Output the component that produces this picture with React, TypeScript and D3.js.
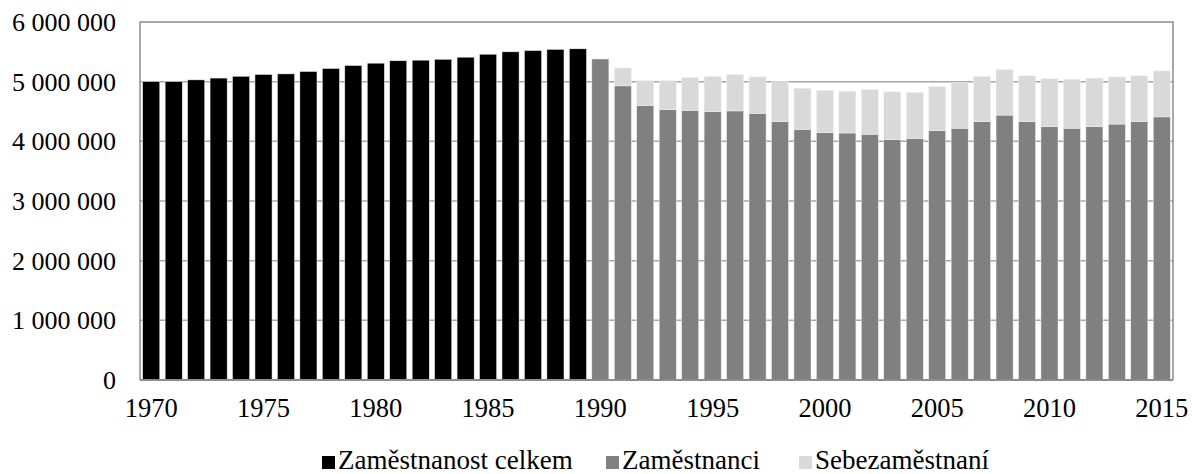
import React from 'react';
import * as d3 from 'd3';

// values
const years = d3.range(1970, 2016).map(String);
const totalYears = d3.range(1970, 1990).map(String);
const totalEmployment = [
  5000000, 5000000, 5030000, 5060000, 5090000, 5120000, 5130000, 5170000, 5220000, 5270000,
  5310000, 5350000, 5360000, 5375000, 5410000, 5460000, 5500000, 5520000, 5540000, 5550000,
];
const splitYears = d3.range(1990, 2016).map(String);
const employees = [
  5380000, 4930000, 4600000, 4530000, 4520000, 4500000, 4510000, 4470000, 4330000, 4200000,
  4145000, 4140000, 4120000, 4030000, 4050000, 4180000, 4220000, 4330000, 4440000, 4330000,
  4245000, 4220000, 4245000, 4290000, 4330000, 4410000,
];
const selfEmployed = [
  0, 300000, 420000, 490000, 550000, 590000, 610000, 610000, 670000, 690000,
  710000, 700000, 750000, 800000, 770000, 740000, 760000, 760000, 760000, 770000,
  805000, 820000, 815000, 790000, 770000, 770000,
];
const yTicks = [0, 1000000, 2000000, 3000000, 4000000, 5000000, 6000000];
const xTickYears = ['1970', '1975', '1980', '1985', '1990', '1995', '2000', '2005', '2010', '2015'];
const legendItems = [
  { label: 'Zaměstnanost celkem', color: '#000000' },
  { label: 'Zaměstnanci', color: '#808080' },
  { label: 'Sebezaměstnaní', color: '#d9d9d9' },
];

const W = 1192, H = 474;
const margin = { left: 140, right: 19, top: 22, bottom: 94 };
const font = "'Liberation Serif', 'Times New Roman', Times, serif";

export default function App() {
  const x = d3.scaleBand()
    .domain(years)
    .range([margin.left, W - margin.right])
    .paddingInner(0.24)
    .paddingOuter(0.12);
  const y = d3.scaleLinear()
    .domain([0, 6000000])
    .range([H - margin.bottom, margin.top]);

  const fmt = (v: number) => d3.format(',')(v).replace(/,/g, ' ');
  const x0 = margin.left, x1 = W - margin.right;
  const yBottom = y(0), yTop = y(6000000);

  // stack employees + self-employed
  const stackRows = splitYears.map((yr, i) => ({ year: yr, emp: employees[i], self: selfEmployed[i] }));
  const stacked = d3.stack<any>().keys(['emp', 'self'])(stackRows);
  const stackColors = ['#808080', '#d9d9d9'];

  const legendX = [322, 606, 799];

  return (
    <svg width={W} height={H} style={{ position: 'absolute', left: 0, top: 0, background: '#fff', fontFamily: font }}>
      {/* gridlines */}
      {yTicks.slice(1, -1).map((t) => (
        <line key={t} x1={x0} x2={x1} y1={y(t)} y2={y(t)} stroke="#a6a6a6" strokeWidth={1.5} />
      ))}
      {/* bars */}
      {totalYears.map((yr, i) => (
        <rect key={yr} x={x(yr)} width={x.bandwidth()} y={y(totalEmployment[i])}
          height={yBottom - y(totalEmployment[i])} fill="#000" stroke="#e8e8e8" strokeWidth={0.5} />
      ))}
      {stacked.map((layer, li) => (
        <g key={li} fill={stackColors[li]}>
          {layer.map((d: any) => (
            d[1] > d[0] ? (
              <rect key={d.data.year} x={x(d.data.year)} width={x.bandwidth()} y={y(d[1])}
                height={y(d[0]) - y(d[1])} stroke="#f2f2f2" strokeWidth={0.5} />
            ) : null
          ))}
        </g>
      ))}
      {/* plot border */}
      <path d={`M${x0},${yBottom}V${yTop}H${x1}V${yBottom}`} fill="none" stroke="#8c8c8c" strokeWidth={1.5} />
      <line x1={x0} x2={x1} y1={yBottom} y2={yBottom} stroke="#8c8c8c" strokeWidth={2} />
      {/* y axis labels */}
      {yTicks.map((t) => (
        <text key={t} x={116} y={y(t)} dy="0.34em" textAnchor="end" fontSize={26}>{fmt(t)}</text>
      ))}
      {/* x axis labels */}
      {xTickYears.map((yr) => (
        <text key={yr} x={(x(yr) as number) + x.bandwidth() / 2} y={417} textAnchor="middle" fontSize={26.5}>{yr}</text>
      ))}
      {/* legend */}
      {legendItems.map((item, i) => (
        <g key={item.label} transform={`translate(${legendX[i]},0)`}>
          <rect x={0} y={456} width={13} height={13} fill={item.color} />
          <text x={16} y={469} fontSize={27}>{item.label}</text>
        </g>
      ))}
    </svg>
  );
}
